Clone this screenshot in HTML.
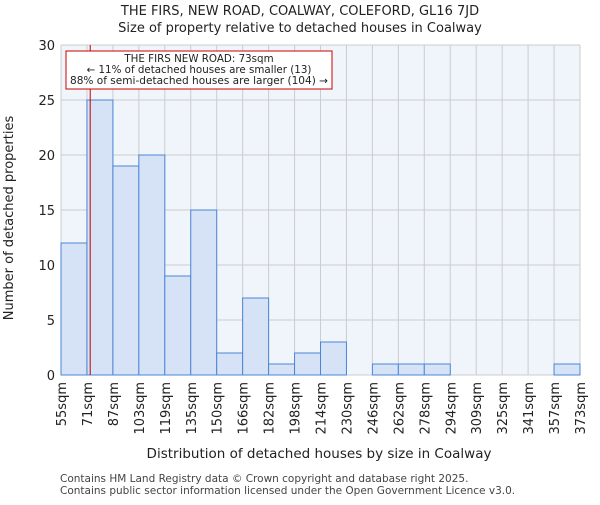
<!DOCTYPE html>
<html><head><meta charset="utf-8"><style>
body{margin:0;background:#fff;font-family:"Liberation Sans","DejaVu Sans",sans-serif}
svg text{font-family:"DejaVu Sans","Liberation Sans",sans-serif}
</style></head><body>
<svg id="chart" width="600" height="500" viewBox="0 0 600 500" xmlns="http://www.w3.org/2000/svg">
<text x="300" y="15" text-anchor="middle" font-size="13" fill="#222">THE FIRS, NEW ROAD, COALWAY, COLEFORD, GL16 7JD</text>
<text x="300" y="32" text-anchor="middle" font-size="13" fill="#222">Size of property relative to detached houses in Coalway</text>
<rect x="61" y="45" width="519" height="330" fill="#f0f4fb"/>
<g id="grid"></g><g id="bars"></g><g id="yticks"></g><g id="xticks"></g>
<line id="marker" y1="45" y2="375" stroke="#b00" stroke-width="1"/>
<rect x="66" y="51" width="266" height="38" fill="#fff" stroke="#c00" stroke-width="1"/>
<text x="199" y="62" text-anchor="middle" font-size="10.3" fill="#222">THE FIRS NEW ROAD: 73sqm</text>
<text x="199" y="73" text-anchor="middle" font-size="10.3" fill="#222">← 11% of detached houses are smaller (13)</text>
<text x="199" y="84" text-anchor="middle" font-size="10.3" fill="#222" textLength="258" lengthAdjust="spacingAndGlyphs">88% of semi-detached houses are larger (104) →</text>
<text x="319" y="458" text-anchor="middle" font-size="13.5" fill="#222">Distribution of detached houses by size in Coalway</text>
<text transform="translate(13,218) rotate(-90)" text-anchor="middle" font-size="13" fill="#222">Number of detached properties</text>
<text x="60" y="482" font-size="10.5" fill="#444">Contains HM Land Registry data © Crown copyright and database right 2025.</text>
<text x="60" y="494" font-size="10.5" fill="#444">Contains public sector information licensed under the Open Government Licence v3.0.</text>
</svg>
<script>
const binLabels=["55sqm","71sqm","87sqm","103sqm","119sqm","135sqm","150sqm","166sqm","182sqm","198sqm","214sqm","230sqm","246sqm","262sqm","278sqm","294sqm","309sqm","325sqm","341sqm","357sqm","373sqm"];
const counts=[12,25,19,20,9,15,2,7,1,2,3,0,1,1,1,0,0,0,0,1];
const yTicks=[0,5,10,15,20,25,30];
const propertySize=73;
const NS="http://www.w3.org/2000/svg";
const L=61,R=580,T=45,B=375,yMax=30,n=counts.length,bw=(R-L)/n;
const xs=i=>L+i*bw, ys=v=>B-v/yMax*(B-T);
function mk(tag,a,p){const e=document.createElementNS(NS,tag);for(const k in a)e.setAttribute(k,a[k]);p.appendChild(e);return e;}
const g=document.getElementById('grid'),bars=document.getElementById('bars'),yt=document.getElementById('yticks'),xt=document.getElementById('xticks');
yTicks.forEach(v=>{
 const l=mk('line',{x1:L,x2:R,y1:ys(v),y2:ys(v),stroke:'#ccc','stroke-width':1},g);
 
 
 const t=mk('text',{x:L-6,y:ys(v)+5,'text-anchor':'end','font-size':13,fill:'#222'},yt);t.textContent=v;
 
 
});
binLabels.forEach((s,i)=>{
 const l=mk('line',{x1:xs(i),x2:xs(i),y1:T,y2:B,stroke:'#ccc','stroke-width':1},g);
 
 
 const t=mk('text',{transform:`translate(${xs(i)+5},382) rotate(-90)`,'text-anchor':'end','font-size':13,fill:'#222'},xt);t.textContent=s;
 
 
});
counts.forEach((c,i)=>{
 if(c<=0)return;
 const r=mk('rect',{x:xs(i),y:ys(c),width:bw,height:B-ys(c),fill:'#d6e2f5',stroke:'#4a86d8','stroke-width':1},bars);
 
 
});
const lo=parseFloat(binLabels[0]),hi=parseFloat(binLabels[1]);
const mx=L+(propertySize-lo)/(hi-lo)*bw;
const m=document.getElementById('marker');m.setAttribute('x1',mx);m.setAttribute('x2',mx);
</script>
</body></html>
